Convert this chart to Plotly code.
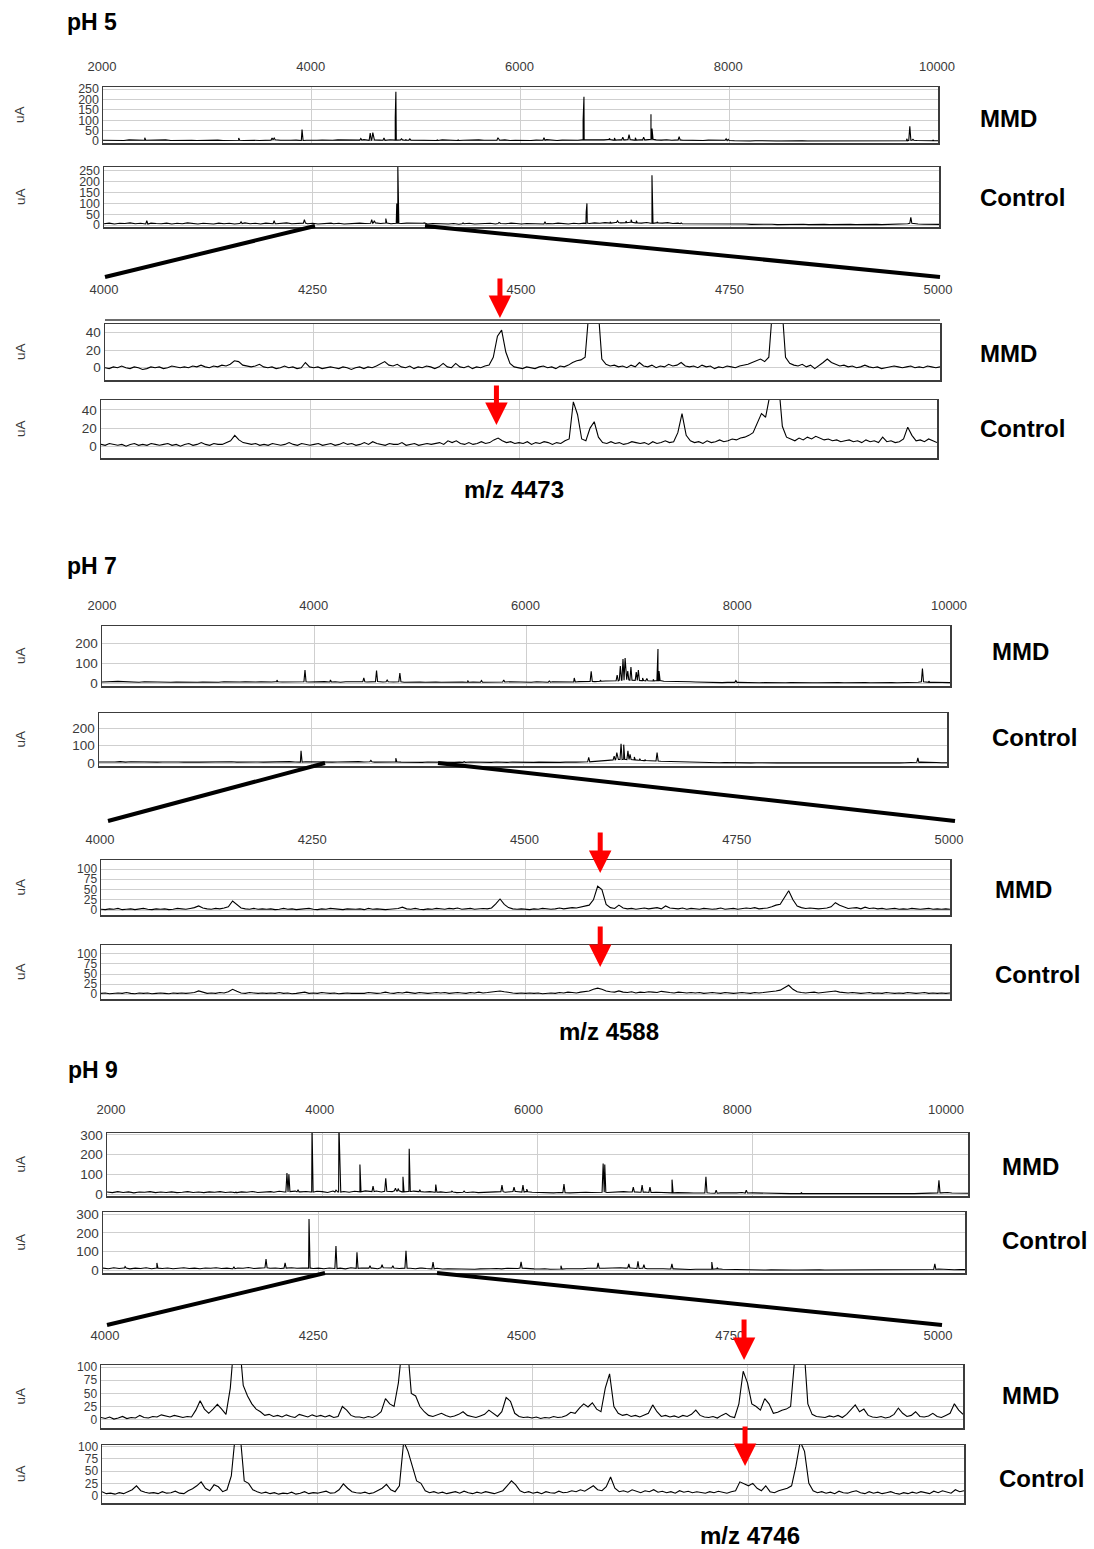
import numpy as np
import plotly.graph_objects as go

W, H = 1094, 1549
FONT = 'Arial, "Liberation Sans", sans-serif'
FRAME = '#3c3c3c'
GRID = '#cfcfcf'
TICK = '#3a3a3a'

# ---------------- tick labels / axes ----------------
full_label_ticks = [2000, 4000, 6000, 8000, 10000]
zoom_label_ticks = [4000, 4250, 4500, 4750, 5000]
full_grid_ticks = [4000, 6000, 8000]
zoom_grid_ticks = [4250, 4500, 4750]
full_mz_range = [2000, 10000]
zoom_mz_range = [4000, 5000]
FULL_STEP = 50   # m/z sampling step of the full-range baselines
ZOOM_STEP = 5    # m/z sampling step of the zoomed spectra

ph5_full_yticks = [0, 50, 100, 150, 200, 250]
ph5_zoom_yticks = [0, 20, 40]
ph7_full_yticks = [0, 100, 200]
ph9_full_yticks = [0, 100, 200, 300]
zoom25_yticks = [0, 25, 50, 75, 100]

group_titles = ['pH 5', 'pH 7', 'pH 9']
sample_names = ['MMD', 'Control']
marker_mz = [4473, 4588, 4746]

# ---------------- pH 5 ----------------
ph5_mmd_full_base = [
    3,2,4,3,2,5,3,2,3,4,2,3,5,2,3,2,4,3,2,3,
    3,2,4,2,3,5,3,2,4,3,2,3,4,6,3,2,3,4,2,3,
    2,3,4,2,3,5,4,3,2,4,6,3,5,4,3,6,4,5,3,4,
    3,2,4,3,2,5,3,4,2,3,4,2,5,3,2,4,3,5,2,3,
    2,3,2,4,3,6,3,2,4,3,2,3,5,4,6,3,5,7,4,6,
    5,7,4,6,5,8,5,4,6,3,5,4,3,2,3,2,4,3,2,3,
    2,1,0,1,0,1,0,0,1,0,0,1,0,0,1,0,0,0,1,0,
    0,1,0,0,1,0,0,0,1,0,0,1,0,2,1,3,2,1,2,1,
    1]
ph5_mmd_peak_mz = [2400, 3300, 3620, 3640, 3907, 4470, 4560, 4585, 4692, 4800, 4806, 4860, 4900, 4940,
                   5200, 5400, 5784, 6225, 6600, 6608, 6850, 6900, 6980, 7040, 7100, 7180, 7250, 7260,
                   7520, 7970, 7990, 9700, 9730, 9760, 9950]
ph5_mmd_peak_h = [15, 14, 14, 14, 55, 12, 38, 40, 14, 110, 237, 10, 8, 10,
                  6, 6, 15, 15, 100, 213, 12, 14, 18, 30, 15, 18, 129, 60,
                  20, 10, 8, 10, 71, 8, 5]

ph5_ctrl_full_base = [
    6,9,5,8,7,10,6,8,5,9,7,6,9,5,8,6,10,7,5,8,
    7,5,9,6,8,5,7,10,6,8,5,9,7,6,8,10,6,7,9,6,
    8,5,7,9,6,8,5,7,6,9,7,8,10,7,9,6,8,7,9,8,
    6,8,5,7,6,8,5,7,4,6,8,5,7,6,8,5,7,6,9,7,
    5,7,6,8,5,7,6,9,7,5,8,6,9,7,10,8,11,9,12,10,
    11,13,10,9,12,8,10,9,11,7,9,6,5,7,4,6,5,4,6,5,
    5,6,4,5,3,4,5,3,4,2,3,4,2,3,4,2,3,4,3,2,
    3,2,4,3,2,3,2,4,3,2,3,4,2,5,6,8,5,4,3,4,
    3]
ph5_ctrl_peak_mz = [2410, 3313, 3630, 3920, 4165, 4565, 4590, 4700, 4805, 4815, 5068, 5440, 5785,
                    6225, 6620, 6627, 6850, 6920, 7000, 7050, 7100, 7250, 7300, 7530, 9730]
ph5_ctrl_peak_h = [20, 15, 20, 25, 10, 25, 20, 30, 100, 275, 10, 10, 12,
                   15, 60, 100, 15, 20, 18, 25, 20, 230, 15, 10, 35]

ph5_mmd_zoom = [
    0,-1,1,0,2,0,-1,1,0,-2,-1,1,0,1,-1,0,2,1,0,1,
    0,2,1,3,1,0,2,1,3,2,4,8,7,3,2,1,2,4,1,0,
    1,-1,0,2,0,1,-1,0,6,1,0,1,-1,0,1,0,-1,1,0,-2,
    0,1,-1,1,0,2,5,7,3,2,4,1,0,2,-1,1,0,2,1,-1,
    1,5,1,0,5,1,0,2,-1,1,0,2,3,12,36,43,18,5,1,0,
    -1,1,0,-1,1,2,0,1,-1,2,1,3,6,8,9,12,70,80,75,10,
    4,2,3,1,2,0,3,1,6,2,1,3,0,2,1,4,2,3,6,2,
    1,2,0,3,1,2,-1,1,0,2,1,0,2,3,4,6,8,10,7,12,
    75,85,80,12,5,3,2,4,1,3,-1,2,6,10,6,4,2,3,1,2,
    0,1,3,1,0,1,-1,0,1,2,1,0,1,2,0,1,0,2,1,0,
    1]
ph5_ctrl_zoom = [
    2,1,3,2,1,2,0,2,3,1,2,1,3,2,1,2,3,1,2,0,
    2,3,1,2,4,2,1,3,2,2,4,6,12,7,4,3,2,3,1,2,
    1,3,2,1,2,4,2,1,3,2,1,2,3,1,2,3,1,2,4,2,
    3,1,2,4,2,5,3,2,1,3,2,2,4,1,2,3,1,2,3,2,
    3,4,2,6,4,6,3,2,4,2,3,5,3,4,7,9,6,4,5,3,
    4,3,5,2,4,3,5,4,2,4,3,6,8,49,35,8,6,20,27,10,
    4,3,5,3,4,2,3,5,4,3,4,2,5,3,4,6,4,5,15,36,
    12,6,4,5,3,6,4,5,7,5,6,8,7,9,10,12,15,25,36,32,
    70,80,75,22,10,8,6,9,7,10,8,11,9,7,8,6,7,5,6,7,
    5,6,4,7,5,6,4,10,5,6,4,5,8,21,12,6,7,5,8,6,
    4]

# ---------------- pH 7 ----------------
ph7_mmd_full_base = [
    5,7,6,8,7,5,6,4,6,5,4,6,5,4,5,4,6,5,4,5,
    4,5,4,6,5,4,5,6,4,5,6,4,5,6,5,6,4,5,6,5,
    6,5,7,5,6,4,6,5,7,6,5,6,7,5,6,5,6,4,5,4,
    5,4,6,5,4,5,4,6,5,4,5,6,4,5,6,4,5,6,5,4,
    5,4,6,5,4,6,5,4,6,5,7,6,8,7,9,10,12,11,14,16,
    14,13,12,11,10,12,9,8,6,5,4,6,5,4,3,4,3,2,3,2,
    3,2,1,2,1,2,1,1,2,1,2,1,1,2,1,1,2,1,1,2,
    1,2,1,1,2,1,2,1,1,2,1,1,2,3,4,6,3,4,3,2,
    2]
ph7_mmd_peak_mz = [3650, 3915, 4155, 4470, 4590, 4690, 4810, 5450, 5580, 5790, 6220, 6455, 6615, 6700,
                   6860, 6890, 6915, 6935, 6960, 6990, 7040, 7060, 7100, 7140, 7200, 7245, 7255, 7350,
                   7980, 9740, 9800]
ph7_mmd_peak_h = [15, 65, 15, 25, 62, 15, 50, 12, 12, 15, 10, 25, 58, 15,
                  40, 85, 120, 125, 60, 80, 55, 65, 25, 22, 18, 170, 60, 10,
                  12, 72, 10]

ph7_ctrl_full_base = [
    6,5,7,6,8,5,7,6,5,7,6,5,6,7,5,6,5,7,6,5,
    6,5,7,5,6,7,5,6,5,7,6,5,6,5,7,6,8,6,5,7,
    6,5,7,6,5,6,7,5,6,8,6,7,5,6,5,7,6,5,4,6,
    5,4,6,5,4,5,6,4,5,4,6,5,4,5,4,6,5,4,5,4,
    4,5,4,5,4,6,5,4,5,6,5,6,7,8,9,12,15,18,20,22,
    20,18,16,14,13,12,10,9,7,6,5,4,5,4,3,4,3,2,3,2,
    2,3,2,1,2,1,2,1,1,2,1,1,2,1,1,2,1,1,2,1,
    1,2,1,1,2,1,1,2,1,1,2,1,2,3,4,5,3,4,3,2,
    2]
ph7_ctrl_peak_mz = [3906, 4565, 4800, 5445, 5780, 6440, 6620, 6860, 6885, 6925, 6950, 6990, 7010,
                    7050, 7100, 7150, 7265, 9725]
ph7_ctrl_peak_h = [70, 15, 28, 8, 8, 8, 33, 40, 60, 110, 105, 70, 50,
                   35, 25, 20, 60, 30]

ph7_mmd_zoom = [
    2,1,3,2,4,1,2,3,1,2,4,2,1,3,2,3,1,2,4,3,
    2,4,6,10,5,3,2,4,3,5,8,22,14,5,3,2,4,2,3,2,
    3,1,2,4,2,3,1,2,3,4,2,1,3,2,4,3,2,1,3,2,
    2,3,1,4,2,3,2,1,2,3,4,7,3,2,4,2,1,3,2,4,
    3,2,4,3,5,2,3,4,2,3,4,3,5,15,27,14,6,3,2,3,
    2,1,3,2,4,3,2,3,5,3,4,6,5,7,9,12,25,58,50,14,
    6,4,12,5,3,4,2,3,5,3,4,6,3,10,5,4,3,5,2,4,
    3,2,4,3,2,3,5,2,3,4,2,3,5,4,6,3,4,5,8,12,
    14,30,47,25,10,6,4,5,4,3,4,5,8,18,12,7,4,5,6,3,
    7,4,5,3,4,2,3,4,2,3,2,4,3,2,3,4,2,3,2,3,
    2]
ph7_ctrl_zoom = [
    2,3,1,2,3,2,4,2,1,3,2,3,1,2,3,2,1,3,2,3,
    2,3,4,8,4,2,3,2,4,3,6,12,7,3,2,4,3,2,3,2,
    3,2,4,2,3,1,2,3,5,2,3,2,4,3,2,3,1,2,3,2,
    2,3,2,4,3,2,3,5,3,2,4,3,5,3,2,4,3,2,3,4,
    3,4,2,3,4,3,2,4,3,5,3,4,5,6,8,6,4,3,2,3,
    2,3,2,3,1,2,3,2,4,3,5,4,3,5,6,8,12,15,12,8,
    6,5,8,5,4,6,3,5,4,6,5,4,7,5,4,3,5,4,3,4,
    3,4,2,3,4,3,2,4,3,2,3,4,3,2,4,3,4,5,6,8,
    10,16,22,12,6,4,3,4,5,3,4,5,7,8,5,4,3,4,3,2,
    3,4,2,3,2,4,3,2,3,2,4,3,2,3,4,2,3,2,3,2,
    3]

# ---------------- pH 9 ----------------
ph9_mmd_full_base = [
    10,7,12,8,11,6,10,9,12,7,10,8,11,7,9,12,8,10,7,11,
    9,12,8,10,7,11,9,13,8,10,12,9,14,10,12,15,11,13,10,14,
    12,8,15,10,13,9,14,11,16,12,15,10,14,12,16,11,13,15,12,10,
    12,9,11,8,10,7,9,8,10,7,9,8,10,12,9,11,13,10,12,9,
    8,7,9,6,8,7,6,8,7,9,8,7,9,8,10,9,12,10,11,9,
    10,8,9,7,8,6,7,5,6,5,7,6,5,4,6,5,7,6,8,5,
    6,5,4,5,3,4,3,2,3,2,3,2,2,3,2,2,3,2,2,3,
    2,3,2,2,3,2,3,2,2,3,2,3,4,3,5,6,8,5,4,3,
    4]
ph9_mmd_peak_mz = [3198, 3512, 3672, 3690, 3775, 3905, 3912, 4128, 4155, 4162, 4350, 4472, 4590, 4680,
                   4705, 4750, 4808, 4815, 4906, 5055, 5205, 5318, 5670, 5782, 5865, 5900, 6246, 6610,
                   6625, 6890, 6972, 7045, 7250, 7565, 7660, 7940, 8450, 9730, 9800]
ph9_mmd_peak_h = [10, 15, 107, 100, 20, 350, 110, 20, 350, 125, 150, 40, 80, 30,
                  28, 88, 230, 60, 22, 48, 15, 15, 45, 35, 45, 25, 50, 155,
                  150, 35, 45, 35, 73, 88, 20, 20, 8, 70, 10]

ph9_ctrl_full_base = [
    12,9,14,10,13,8,12,10,14,9,12,10,13,9,11,14,10,12,9,13,
    11,14,10,12,9,13,11,15,10,12,14,11,13,10,12,14,11,13,12,10,
    12,9,13,10,12,8,14,11,13,10,12,9,14,11,13,10,12,11,9,12,
    10,8,11,7,9,8,10,7,9,6,8,7,9,10,8,11,9,10,12,9,
    8,7,9,6,8,7,9,8,10,9,11,10,12,11,13,12,14,12,13,10,
    11,9,10,8,9,7,8,6,7,5,6,5,7,6,8,6,5,4,5,4,
    3,4,3,2,3,2,2,3,2,2,3,2,2,3,2,2,3,2,2,3,
    2,3,2,2,3,2,2,3,2,3,2,3,4,3,5,7,5,4,3,4,
    4]
ph9_ctrl_peak_mz = [2205, 2500, 3215, 3513, 3690, 3912, 3918, 4162, 4357, 4478, 4590, 4690, 4812,
                    4951, 5063, 5880, 6250, 6595, 6880, 6965, 7020, 7280, 7650, 7700, 9720]
ph9_ctrl_peak_h = [20, 40, 20, 60, 40, 275, 90, 130, 97, 25, 30, 25, 105,
                   15, 45, 45, 25, 40, 35, 48, 30, 35, 45, 15, 35]

ph9_mmd_zoom = [
    4,2,5,1,3,6,2,4,3,8,4,3,6,5,9,7,5,8,6,4,
    6,5,18,36,20,12,20,29,20,10,60,160,160,65,45,30,20,15,8,10,
    6,8,5,9,6,4,10,7,5,9,6,8,5,8,4,6,25,18,8,5,
    5,3,6,4,8,15,40,30,25,70,150,150,50,45,25,15,8,6,9,12,
    8,5,7,10,15,8,6,4,7,10,18,12,6,15,42,35,12,6,4,5,
    3,5,2,4,3,6,4,5,8,14,12,22,30,24,32,20,15,60,87,25,
    12,8,10,6,8,5,9,12,28,15,6,8,5,7,4,8,6,10,18,8,
    5,4,6,3,8,12,6,4,30,92,70,30,25,18,40,30,12,14,18,20,
    25,120,150,150,30,10,6,5,4,7,5,8,4,10,20,28,15,20,8,5,
    4,6,3,5,10,22,12,6,8,15,6,5,7,12,6,4,8,12,30,18,
    10]
ph9_ctrl_zoom = [
    8,4,5,3,6,4,8,12,20,10,7,5,6,4,8,5,6,9,5,4,
    10,14,20,28,15,10,22,18,8,12,40,130,130,30,25,12,8,5,7,4,
    6,3,5,4,7,3,5,8,4,6,5,7,9,5,6,12,24,15,8,6,
    5,7,4,6,10,15,23,12,8,20,110,90,60,30,25,10,6,8,5,7,
    4,6,8,5,9,6,4,7,5,8,6,4,7,10,20,30,22,10,6,8,
    5,7,4,8,6,5,9,6,7,10,8,12,9,15,20,12,10,18,38,15,
    8,10,7,12,9,6,10,8,12,7,9,6,8,5,10,7,9,6,8,7,
    5,8,6,9,7,5,8,10,28,24,20,25,15,10,20,8,6,10,12,15,
    20,60,110,90,25,10,6,8,5,7,4,9,6,5,8,10,6,4,8,5,
    7,4,6,8,5,3,6,4,7,5,8,6,4,9,6,10,7,5,12,8,
    10]


# ---------------- helpers ----------------
def full_spectrum(base, pk_mz, pk_h):
    grid = np.arange(full_mz_range[0], full_mz_range[1] + 1, FULL_STEP)
    assert len(base) == len(grid), len(base)
    assert len(pk_mz) == len(pk_h)
    pts = list(zip(grid.tolist(), base))
    for m, h in zip(pk_mz, pk_h):
        b = base[int(round((m - full_mz_range[0]) / FULL_STEP))]
        pts += [(m - 10, b), (m, h), (m + 10, b)]
    pts.sort(key=lambda p: p[0])
    return [p[0] for p in pts], [p[1] for p in pts]


def zoom_spectrum(vals):
    grid = np.arange(zoom_mz_range[0], zoom_mz_range[1] + 1, ZOOM_STEP)
    assert len(vals) == len(grid), len(vals)
    return grid.tolist(), vals


def names(i):
    s = '' if i == 1 else str(i)
    return 'xaxis' + s, 'yaxis' + s, 'x' + s, 'y' + s


fig = go.Figure()
layout = {}
annotations = []
shapes = []


def add_panel(i, box, xr, yr, yticks, xgrid, xs, ys, ytick_size=13.5):
    xa, ya, xref, yref = names(i)
    x0, x1, y0, y1 = box
    layout[xa] = dict(domain=[x0 / W, x1 / W], range=xr, anchor=yref, tickmode='array',
                      tickvals=xgrid, showticklabels=False, ticks='', showgrid=True,
                      gridcolor=GRID, gridwidth=1, showline=True, mirror=True,
                      linecolor=FRAME, linewidth=1.5, zeroline=False, fixedrange=True,
                      automargin=False)
    layout[ya] = dict(domain=[1 - y1 / H, 1 - y0 / H], range=yr, anchor=xref, tickmode='array',
                      tickvals=yticks, ticktext=[str(v) for v in yticks], ticks='',
                      showgrid=True, gridcolor=GRID, gridwidth=1,
                      showline=True, mirror=True, linecolor=FRAME, linewidth=1.5,
                      zeroline=False, fixedrange=True, automargin=False,
                      tickfont=dict(family=FONT, size=ytick_size, color=TICK))
    fig.add_trace(go.Scatter(x=xs, y=ys, xaxis=xref, yaxis=yref, mode='lines',
                             line=dict(color='black', width=1.1), hoverinfo='skip',
                             showlegend=False))
    annotations.append(dict(text='uA', x=20 / W, y=1 - (y0 + y1) / 2 / H, xref='paper',
                            yref='paper', textangle=-90, showarrow=False,
                            font=dict(family=FONT, size=13.5, color=TICK),
                            xanchor='center', yanchor='middle'))


def add_label_axis(i, px0, px1, label_cy, xr, ticks):
    xa, ya, xref, yref = names(i)
    p = 1 - (label_cy - 9) / H
    layout[xa] = dict(domain=[px0 / W, px1 / W], range=xr, anchor=yref, side='bottom',
                      tickmode='array', tickvals=ticks, ticktext=[str(v) for v in ticks],
                      ticks='', showline=False, showgrid=False, zeroline=False,
                      fixedrange=True, automargin=False,
                      tickfont=dict(family=FONT, size=13, color=TICK))
    layout[ya] = dict(domain=[p, min(p + 0.001, 1)], range=[0, 1], visible=False,
                      fixedrange=True, automargin=False)
    fig.add_trace(go.Scatter(x=xr, y=[0.5, 0.5], xaxis=xref, yaxis=yref, mode='lines',
                             line=dict(width=0, color='rgba(0,0,0,0)'), hoverinfo='skip',
                             showlegend=False))


def text(s, x, y, size, anchor='left', bold=True):
    annotations.append(dict(text=s, x=x / W, y=1 - y / H, xref='paper', yref='paper',
                            showarrow=False, xanchor=anchor, yanchor='middle',
                            font=dict(family=FONT, size=size, color='black',
                                      weight='bold' if bold else 'normal')))


def zoom_lines(a, b, c, d):
    for (xa, ya, xb, yb) in (a + c, b + d):
        shapes.append(dict(type='line', xref='paper', yref='paper', x0=xa / W, y0=1 - ya / H,
                           x1=xb / W, y1=1 - yb / H, line=dict(color='black', width=4)))


def arrow(i, mz, tip, tail):
    _, _, xref, _ = names(i)
    annotations.append(dict(x=mz, xref=xref, y=1 - tip / H, yref='paper', ax=0, ay=-(tip - tail),
                            axref='pixel', ayref='pixel', showarrow=True, text='',
                            arrowhead=2, arrowsize=0.9, arrowwidth=5, arrowcolor='#ff0000'))


# ---------------- pH 5 ----------------
text(group_titles[0], 65, 22, 23)
add_label_axis(13, 102, 937, 66, full_mz_range, full_label_ticks)
xs, ys = full_spectrum(ph5_mmd_full_base, ph5_mmd_peak_mz, ph5_mmd_peak_h)
add_panel(1, (103, 938, 87, 143), full_mz_range, [-10, 260], ph5_full_yticks, full_grid_ticks, xs, ys, 12.5)
xs, ys = full_spectrum(ph5_ctrl_full_base, ph5_ctrl_peak_mz, ph5_ctrl_peak_h)
add_panel(2, (104, 939, 167, 227), full_mz_range, [-9, 268], ph5_full_yticks, full_grid_ticks, xs, ys, 12.5)
zoom_lines((315, 226), (425, 226), (105, 277), (940, 277))
add_label_axis(14, 104, 938, 289, zoom_mz_range, zoom_label_ticks)
xs, ys = zoom_spectrum(ph5_mmd_zoom)
add_panel(3, (105, 940, 324, 380), zoom_mz_range, [-14, 50], ph5_zoom_yticks, zoom_grid_ticks, xs, ys)
shapes.append(dict(type='line', xref='paper', yref='paper', x0=105 / W, x1=940 / W,
                   y0=1 - 320 / H, y1=1 - 320 / H, line=dict(color=FRAME, width=1.5)))
xs, ys = zoom_spectrum(ph5_ctrl_zoom)
add_panel(4, (101, 937, 400, 458), zoom_mz_range, [-13, 51], ph5_zoom_yticks, zoom_grid_ticks, xs, ys)
arrow(3, marker_mz[0], 318, 277)
arrow(4, marker_mz[0], 425, 384)
text(sample_names[0], 978, 118, 24)
text(sample_names[1], 978, 197, 24)
text(sample_names[0], 978, 353, 24)
text(sample_names[1], 978, 428, 24)
text('m/z %d' % marker_mz[0], 514, 489, 24, anchor='center')

# ---------------- pH 7 ----------------
text(group_titles[1], 65, 566, 23)
add_label_axis(15, 102, 949, 605, full_mz_range, full_label_ticks)
xs, ys = full_spectrum(ph7_mmd_full_base, ph7_mmd_peak_mz, ph7_mmd_peak_h)
add_panel(5, (102, 950, 626, 686), full_mz_range, [-15, 285], ph7_full_yticks, full_grid_ticks, xs, ys)
xs, ys = full_spectrum(ph7_ctrl_full_base, ph7_ctrl_peak_mz, ph7_ctrl_peak_h)
add_panel(6, (99, 947, 713, 766), full_mz_range, [-17, 286], ph7_full_yticks, full_grid_ticks, xs, ys)
zoom_lines((325, 763), (438, 763), (108, 821), (955, 821))
add_label_axis(16, 100, 949, 839, zoom_mz_range, zoom_label_ticks)
xs, ys = zoom_spectrum(ph7_mmd_zoom)
add_panel(7, (101, 950, 860, 915), zoom_mz_range, [-12, 122], zoom25_yticks, zoom_grid_ticks, xs, ys, 12)
xs, ys = zoom_spectrum(ph7_ctrl_zoom)
add_panel(8, (101, 950, 945, 999), zoom_mz_range, [-12, 122], zoom25_yticks, zoom_grid_ticks, xs, ys, 12)
arrow(7, marker_mz[1], 873, 831)
arrow(8, marker_mz[1], 967, 925)
text(sample_names[0], 990, 651, 24)
text(sample_names[1], 990, 737, 24)
text(sample_names[0], 993, 889, 24)
text(sample_names[1], 993, 974, 24)
text('m/z %d' % marker_mz[1], 609, 1031, 24, anchor='center')

# ---------------- pH 9 ----------------
text(group_titles[2], 66, 1070, 23)
add_label_axis(17, 111, 946, 1109, full_mz_range, full_label_ticks)
xs, ys = full_spectrum(ph9_mmd_full_base, ph9_mmd_peak_mz, ph9_mmd_peak_h)
add_panel(9, (107, 968, 1133, 1196), full_mz_range, [-10, 310], ph9_full_yticks, full_grid_ticks, xs, ys)
xs, ys = full_spectrum(ph9_ctrl_full_base, ph9_ctrl_peak_mz, ph9_ctrl_peak_h)
add_panel(10, (103, 965, 1212, 1273), full_mz_range, [-14, 312], ph9_full_yticks, full_grid_ticks, xs, ys)
zoom_lines((325, 1273), (437, 1273), (107, 1325), (942, 1325))
add_label_axis(18, 105, 938, 1335, zoom_mz_range, zoom_label_ticks)
xs, ys = zoom_spectrum(ph9_mmd_zoom)
add_panel(11, (101, 963, 1365, 1428), zoom_mz_range, [-16, 104], zoom25_yticks, zoom_grid_ticks, xs, ys, 12)
xs, ys = zoom_spectrum(ph9_ctrl_zoom)
add_panel(12, (102, 964, 1445, 1503), zoom_mz_range, [-15, 103], zoom25_yticks, zoom_grid_ticks, xs, ys, 12)
arrow(11, marker_mz[2], 1360, 1318)
arrow(12, marker_mz[2], 1466, 1425)
text(sample_names[0], 1000, 1166, 24)
text(sample_names[1], 1000, 1240, 24)
text(sample_names[0], 1000, 1395, 24)
text(sample_names[1], 997, 1478, 24)
text('m/z %d' % marker_mz[2], 750, 1535, 24, anchor='center')

fig.update_layout(**layout)
fig.update_layout(width=W, height=H, autosize=False, margin=dict(l=0, r=0, t=0, b=0, pad=0),
                  paper_bgcolor='white', plot_bgcolor='rgba(0,0,0,0)',
                  annotations=annotations, shapes=shapes, showlegend=False,
                  font=dict(family=FONT))
fig.write_html("out.html", config={'displayModeBar': False, 'staticPlot': True},
               post_script="document.body.style.margin='0px';"
                           "document.body.style.padding='0px';"
                           "document.documentElement.style.overflow='hidden';")
